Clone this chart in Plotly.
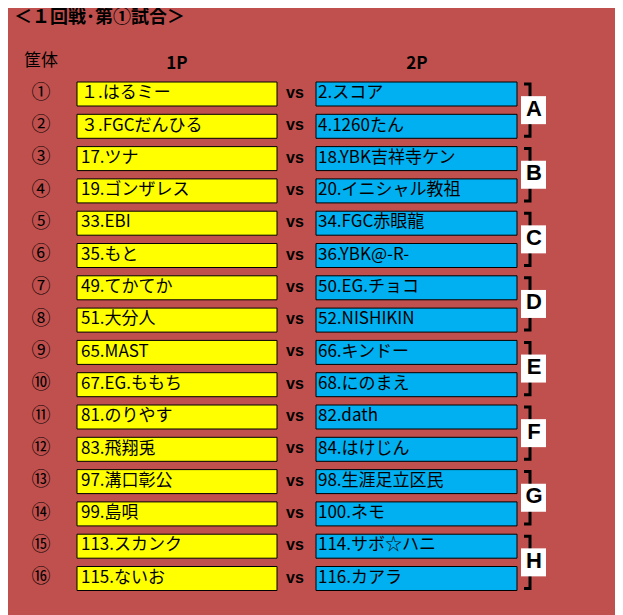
import plotly.graph_objects as go

title = "＜１回戦･第①試合＞"
cabinets = ["①", "②", "③", "④", "⑤", "⑥", "⑦", "⑧", "⑨", "⑩", "⑪", "⑫", "⑬", "⑭", "⑮", "⑯"]
p1 = ["１.はるミー", "３.FGCだんひる", "17.ツナ", "19.ゴンザレス", "33.EBI", "35.もと", "49.てかてか", "51.大分人",
      "65.MAST", "67.EG.ももち", "81.のりやす", "83.飛翔兎", "97.溝口彰公", "99.島唄", "113.スカンク", "115.ないお"]
p2 = ["2.スコア", "4.1260たん", "18.YBK吉祥寺ケン", "20.イニシャル教祖", "34.FGC赤眼龍", "36.YBK@-R-", "50.EG.チョコ", "52.NISHIKIN",
      "66.キンドー", "68.にのまえ", "82.dath", "84.はけじん", "98.生涯足立区民", "100.ネモ", "114.サボ☆ハニ", "116.カアラ"]
groups = ["A", "B", "C", "D", "E", "F", "G", "H"]

FONT = "Noto Sans CJK JP"
y0, dy, h = 94, 32.3, 24
ys = [y0 + i * dy for i in range(len(p1))]

fig = go.Figure()
shapes = []
for y in ys:
    shapes.append(dict(type="rect", x0=77, x1=277, y0=y - h / 2, y1=y + h / 2, layer="below",
                       fillcolor="#FFFF00", line=dict(color="black", width=1)))
    shapes.append(dict(type="rect", x0=316, x1=517, y0=y - h / 2, y1=y + h / 2, layer="below",
                       fillcolor="#00B0F0", line=dict(color="black", width=1)))
gy = []
for g in range(len(groups)):
    top, bot = ys[2 * g] - 10, ys[2 * g + 1] + 10
    gy.append((top + bot) / 2)
    path = f"M 524 {top} L 530 {top} L 530 {bot} L 524 {bot}"
    shapes.append(dict(type="path", path=path, layer="below", line=dict(color="black", width=3)))
    shapes.append(dict(type="rect", x0=521, x1=546, y0=(top + bot) / 2 - 14, y1=(top + bot) / 2 + 14,
                       layer="below", fillcolor="white", line=dict(width=0)))

fig.add_trace(go.Scatter(x=[41] * 16, y=ys, mode="text", text=cabinets,
                         textfont=dict(size=19, color="black", family=FONT)))
fig.add_trace(go.Scatter(x=[81] * 16, y=ys, mode="text", text=p1, textposition="middle right",
                         textfont=dict(size=17, color="black", family=FONT)))
fig.add_trace(go.Scatter(x=[318] * 16, y=ys, mode="text", text=p2, textposition="middle right",
                         textfont=dict(size=17, color="black", family=FONT)))
fig.add_trace(go.Scatter(x=[295] * 16, y=ys, mode="text", text=["<b>vs</b>"] * 16,
                         textfont=dict(size=16, color="black", family="Liberation Sans")))
fig.add_trace(go.Scatter(x=[534] * 8, y=gy, mode="text", text=[f"<b>{g}</b>" for g in groups],
                         textfont=dict(size=22, color="black", family="Liberation Sans")))
fig.add_trace(go.Scatter(x=[41, 177, 417], y=[62, 65, 65], mode="text", text=["筐体", "<b>1P</b>", "<b>2P</b>"],
                         textfont=dict(size=17, color="black", family=FONT)))
fig.add_trace(go.Scatter(x=[14], y=[18], mode="text", text=[f"<b>{title}</b>"], textposition="middle right",
                         textfont=dict(size=18, color="black", family=FONT)))

# page body has an 8px margin, so the axes start at 8 to keep window pixel coordinates
fig.update_layout(
    width=615, height=607, margin=dict(l=0, r=0, t=0, b=0),
    paper_bgcolor="#C0504D", plot_bgcolor="#C0504D", showlegend=False, shapes=shapes,
    xaxis=dict(range=[8, 623], visible=False, fixedrange=True),
    yaxis=dict(range=[615, 8], visible=False, fixedrange=True),
)
fig.write_html("out.html")
